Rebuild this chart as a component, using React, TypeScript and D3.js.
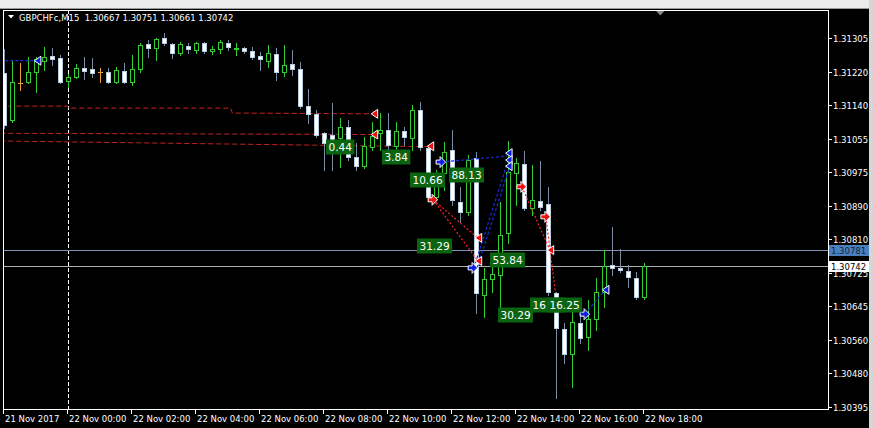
import React from "react";
import * as d3 from "d3";

const W = 873;
const H = 428;
const PLOT = { left: 3, right: 828, top: 10, bottom: 409 };

const symbolTitle = "GBPCHFc,M15  1.30667 1.30751 1.30661 1.30742";

const opens = [
  1.31219, 1.31103, 1.31194, 1.31197, 1.31221, 1.31248, 1.31261, 1.31256, 1.31199, 1.31209,
  1.31231, 1.31229, 1.31221, 1.31221, 1.31197, 1.31224, 1.31197, 1.31229, 1.3129, 1.3128,
  1.31305, 1.3129, 1.31268, 1.31285, 1.31275, 1.31293, 1.31273, 1.31278, 1.31293, 1.31278,
  1.3128, 1.31273, 1.31261, 1.31248, 1.31266, 1.31221, 1.31241, 1.31229, 1.31137, 1.31118,
  1.31071, 1.31066, 1.31058, 1.31086, 1.31012, 1.30989, 1.31036, 1.31071, 1.31078, 1.31039,
  1.31076, 1.31058, 1.31127, 1.31034, 1.30913, 1.30972, 1.31029, 1.30901, 1.30876, 1.31009,
  1.30671, 1.30711, 1.30721, 1.30824, 1.30972, 1.30994, 1.30886, 1.30903, 1.30896, 1.30676,
  1.30587, 1.30526, 1.30602, 1.30568, 1.30612, 1.30679, 1.30745, 1.30738, 1.3073, 1.30713,
  1.30667,
];
const highs = [
  1.31278, 1.31251, 1.31243, 1.31258, 1.31258, 1.31283, 1.3128, 1.31263, 1.31216, 1.31241,
  1.31258, 1.31256, 1.31231, 1.31231, 1.31233, 1.31243, 1.31263, 1.31293, 1.313, 1.31305,
  1.31317, 1.31293, 1.31295, 1.31293, 1.31295, 1.31295, 1.31285, 1.313, 1.313, 1.31293,
  1.31283, 1.31283, 1.31271, 1.31288, 1.3128, 1.31288, 1.31275, 1.31246, 1.31179, 1.31127,
  1.31073, 1.31145, 1.31108, 1.31103, 1.31046, 1.31061, 1.31098, 1.3112, 1.3112, 1.31098,
  1.31086, 1.3114, 1.31147, 1.31041, 1.3098, 1.31049, 1.31078, 1.30938, 1.31016, 1.31024,
  1.30738, 1.30762, 1.30901, 1.31051, 1.31009, 1.31026, 1.30992, 1.31002, 1.30938, 1.30679,
  1.30602, 1.30629, 1.30659, 1.30659, 1.30713, 1.30782, 1.30839, 1.30785, 1.30745, 1.30728,
  1.30751,
];
const lows = [
  1.31083, 1.31098, 1.31177, 1.31194, 1.31172, 1.31226, 1.31238, 1.31194, 1.31184, 1.31206,
  1.31204, 1.31209, 1.31197, 1.31194, 1.31194, 1.31194, 1.31189, 1.31221, 1.31258, 1.31251,
  1.31288, 1.31256, 1.31263, 1.31268, 1.31268, 1.31268, 1.31266, 1.31268, 1.31275, 1.31263,
  1.31268, 1.31253, 1.31226, 1.31233, 1.31201, 1.31211, 1.31214, 1.31132, 1.31095, 1.31061,
  1.3098, 1.3098, 1.30987, 1.31004, 1.3098, 1.30984, 1.31029, 1.31029, 1.31029, 1.31029,
  1.31041, 1.31029, 1.31029, 1.30906, 1.30906, 1.3093, 1.30893, 1.30851, 1.30869, 1.30627,
  1.30617, 1.30679, 1.30642, 1.30799, 1.30893, 1.30881, 1.30869, 1.30881, 1.30671, 1.30417,
  1.30504, 1.30444, 1.30553, 1.30536, 1.30585, 1.30642, 1.30721, 1.30728, 1.30691, 1.30661,
  1.30661,
];
const closes = [
  1.3109, 1.31197, 1.31194, 1.31221, 1.31253, 1.31258, 1.31253, 1.31197, 1.31209, 1.31231,
  1.31224, 1.31219, 1.31221, 1.31197, 1.31226, 1.31197, 1.31229, 1.31288, 1.3128, 1.31303,
  1.31293, 1.31268, 1.3129, 1.31278, 1.31293, 1.31273, 1.31278, 1.31295, 1.31283, 1.3128,
  1.31273, 1.31258, 1.31253, 1.31268, 1.31221, 1.31238, 1.31229, 1.31137, 1.31118, 1.31066,
  1.31046, 1.31053, 1.31086, 1.31012, 1.30989, 1.31039, 1.31063, 1.31078, 1.31041, 1.31076,
  1.31061, 1.31127, 1.31036, 1.30913, 1.30943, 1.31024, 1.30906, 1.30876, 1.31004, 1.30676,
  1.30711, 1.30723, 1.30819, 1.30975, 1.30997, 1.30886, 1.30906, 1.30888, 1.30679, 1.3059,
  1.30526, 1.30605, 1.30565, 1.30612, 1.30679, 1.30743, 1.30738, 1.30733, 1.30716, 1.30666,
  1.30742,
];

const timeTickIndex = [0, 8, 16, 24, 32, 40, 48, 56, 64, 72, 80];
const timeTickLabels = [
  "21 Nov 2017", "22 Nov 00:00", "22 Nov 02:00", "22 Nov 04:00", "22 Nov 06:00",
  "22 Nov 08:00", "22 Nov 10:00", "22 Nov 12:00", "22 Nov 14:00", "22 Nov 16:00", "22 Nov 18:00",
];
const priceTicks = [
  1.31305, 1.3122, 1.3114, 1.31055, 1.30975, 1.3089, 1.3081, 1.30725, 1.30645, 1.3056, 1.3048, 1.30395,
];
const separatorIndex = [8];
const shiftMarkerIndex = 82;

const hLineLevels = [1.30781, 1.30742];
const hLineLabels = ["1.30781", "1.30742"];

const redTrendLines = [
  [[-0.5, 1.31137], [7.9, 1.31137], [8.1, 1.31132], [28.3, 1.31132], [28.5, 1.3112], [46.0, 1.31118]],
  [[-0.5, 1.3107], [46.0, 1.31067]],
  [[-0.5, 1.31051], [53.0, 1.31037]],
];
const redDottedLines = [
  [[53.6, 1.30906], [59.2, 1.30812]],
  [[53.6, 1.30906], [59.2, 1.30755]],
  [[64.7, 1.30938], [68.2, 1.30782]],
  [[67.7, 1.30864], [68.9, 1.30676]],
];
const blueDottedLines = [
  [[-0.5, 1.31249], [4.0, 1.31249]],
  [[54.6, 1.30999], [62.9, 1.31014]],
  [[58.7, 1.30738], [63.0, 1.31004]],
  [[59.1, 1.30738], [63.1, 1.30984]],
  [[72.6, 1.30624], [75.1, 1.30684]],
];
const redLeftArrows = [
  [46.3, 1.31118], [46.3, 1.31067], [53.3, 1.31038], [59.3, 1.30812], [59.3, 1.30755], [68.3, 1.30782],
];
const redSignalArrows = [[53.6, 1.30906], [64.7, 1.30938], [67.7, 1.30864]];
const blueLeftArrows = [
  [4.2, 1.31249], [63.1, 1.31021], [63.1, 1.31004], [63.1, 1.30989], [75.2, 1.30684],
];
const blueRightArrows = [[54.6, 1.30999], [58.6, 1.30738], [72.6, 1.30624]];

// the 8th box is mostly covered by the 9th; only "16" of it is visible
const boxTexts = ["0.44", "3.84", "10.66", "88.13", "31.29", "53.84", "30.29", "16", "16.25"];
const boxWidthTexts = ["0.44", "3.84", "10.66", "88.13", "31.29", "53.84", "30.29", "16.25", "16.25"];
const boxIndex = [40.2, 47.2, 50.7, 55.6, 51.6, 60.7, 61.7, 65.7, 67.8];
const boxPrice = [1.31037, 1.31012, 1.30956, 1.30967, 1.30793, 1.30758, 1.30622, 1.30647, 1.30647];

const AX_FONT = "DejaVu Sans, Verdana, sans-serif";

export default function App() {
  const x = d3.scaleLinear().domain([0, 80]).range([4.3, 644.3]);
  const y = d3.scaleLinear().domain([1.30395, 1.31305]).range([407, 38]);
  const line = d3
    .line<number[]>()
    .x((d) => x(d[0]))
    .y((d) => y(d[1]));

  const BULL = "#32cd32";
  const BEAR_WICK = "#7a8ea6";
  const BEAR_STROKE = "#b8cce0";
  const DOJI = "#f0a030";

  const candles = opens.map((o, i) => {
    const c = closes[i];
    const h = highs[i];
    const l = lows[i];
    const cx = Math.round(x(i));
    const yt = Math.round(y(Math.max(o, c)));
    const yb = Math.round(y(Math.min(o, c)));
    const yh = Math.round(y(h));
    const yl = Math.round(y(l));
    const bull = c > o;
    const doji = c === o;
    const wickColor = doji ? DOJI : bull ? BULL : BEAR_WICK;
    return (
      <g key={i}>
        <line x1={cx + 0.5} x2={cx + 0.5} y1={yh} y2={yl + 1} stroke={wickColor} strokeWidth={1} />
        {yb - yt < 1 ? (
          <line x1={cx - 2} x2={cx + 3} y1={yt + 0.5} y2={yt + 0.5} stroke={wickColor} strokeWidth={1} />
        ) : (
          <rect
            x={cx - 2 + 0.5}
            y={yt + 0.5}
            width={4}
            height={yb - yt}
            fill={bull ? "#000" : "#fff"}
            stroke={bull ? BULL : BEAR_STROKE}
            strokeWidth={1}
          />
        )}
      </g>
    );
  });

  const leftTri = (px: number, py: number, fill: string, k: string) => (
    <polygon
      key={k}
      points={`${px - 3.5},${py} ${px + 3},${py - 4.5} ${px + 3},${py + 4.5}`}
      fill={fill}
      stroke="#fff"
      strokeWidth={1}
    />
  );
  const rightArrow = (px: number, py: number, fill: string, k: string) => (
    <path
      key={k}
      d={`M${px - 5},${py - 2} h4 v-3.5 l5.5,5.5 l-5.5,5.5 v-3.5 h-4 z`}
      fill={fill}
      stroke="#fff"
      strokeWidth={1}
    />
  );

  const boxW = (t: string) => {
    let w = 0;
    for (const ch of t) w += ch === "." ? 3.34 : 6.68;
    return w + 5;
  };

  return (
    <div style={{ position: "absolute", left: 0, top: 0, width: W, height: H }}>
      <svg width={W} height={H} style={{ display: "block", background: "#000" }}>
        <defs>
          <clipPath id="plotclip">
            <rect x={PLOT.left} y={PLOT.top} width={PLOT.right - PLOT.left} height={PLOT.bottom - PLOT.top} />
          </clipPath>
        </defs>
        <rect x={0} y={0} width={W} height={H} fill="#000" />
        {/* toolbar strip */}
        <rect x={0} y={0} width={W} height={8} fill="#ececec" />
        <line x1={0} x2={W} y1={8.5} y2={8.5} stroke="#9a9a9a" />
        <rect x={869} y={0} width={4} height={H} fill="#d6d6d6" />

        <g clipPath="url(#plotclip)">
          {separatorIndex.map((si) => (
            <line
              key={si}
              x1={Math.round(x(si)) + 0.5}
              x2={Math.round(x(si)) + 0.5}
              y1={PLOT.top}
              y2={PLOT.bottom}
              stroke="#fff"
              strokeDasharray="4,2"
            />
          ))}
          {hLineLevels.map((lv, i) => (
            <line
              key={i}
              x1={PLOT.left}
              x2={PLOT.right}
              y1={Math.round(y(lv)) + 0.5}
              y2={Math.round(y(lv)) + 0.5}
              stroke={i === 0 ? "#7f93b0" : "#b0b0b0"}
              strokeWidth={1}
            />
          ))}
          {redTrendLines.map((pts, i) => (
            <path key={i} d={line(pts) || ""} fill="none" stroke="#cc2222" strokeWidth={1} strokeDasharray="5,3" />
          ))}
          {candles}
          {redDottedLines.map((pts, i) => (
            <path key={i} d={line(pts) || ""} fill="none" stroke="#ff2020" strokeWidth={1.2} strokeDasharray="2,2" />
          ))}
          {blueDottedLines.map((pts, i) => (
            <path key={i} d={line(pts) || ""} fill="none" stroke="#1a2ad8" strokeWidth={1.2} strokeDasharray="3,2" />
          ))}
          {redLeftArrows.map((p, i) => leftTri(x(p[0]), y(p[1]), "#ee1111", "rl" + i))}
          {redSignalArrows.map((p, i) => rightArrow(x(p[0]), y(p[1]), "#ee1111", "rs" + i))}
          {blueLeftArrows.map((p, i) => leftTri(x(p[0]), y(p[1]), "#1020e0", "bl" + i))}
          {blueRightArrows.map((p, i) => rightArrow(x(p[0]), y(p[1]), "#1020e0", "br" + i))}
          {boxTexts.map((t, i) => {
            const bx = Math.round(x(boxIndex[i]));
            const by = Math.round(y(boxPrice[i]));
            const w = boxW(boxWidthTexts[i]);
            return (
              <g key={"b" + i}>
                <rect x={bx} y={by - 7.5} width={w} height={15} fill="#0a6410" />
                <text x={bx + 2.5} y={by + 4} fill="#fff" fontFamily={AX_FONT} fontSize={10.5}>
                  {t}
                </text>
              </g>
            );
          })}
        </g>

        <rect
          x={PLOT.left + 0.5}
          y={PLOT.top + 0.5}
          width={PLOT.right - PLOT.left}
          height={PLOT.bottom - PLOT.top}
          fill="none"
          stroke="#fff"
          strokeWidth={1}
        />

        <polygon points="8,15 14,15 11,18.5" fill="#fff" />
        <text x={19} y={21} fill="#fff" fontFamily={AX_FONT} fontSize={8.5} style={{ whiteSpace: "pre" }}>
          {symbolTitle}
        </text>
        <polygon
          points={`${x(shiftMarkerIndex) - 4},11 ${x(shiftMarkerIndex) + 4},11 ${x(shiftMarkerIndex)},15.5`}
          fill="#8a8a8a"
        />

        {priceTicks.map((p, i) => {
          const ty = Math.round(y(p));
          return (
            <g key={"pt" + i}>
              <line x1={PLOT.right + 1} x2={PLOT.right + 4} y1={ty + 0.5} y2={ty + 0.5} stroke="#fff" />
              <text x={833} y={ty + 3.5} fill="#fff" fontFamily={AX_FONT} fontSize={8.5}>
                {p.toFixed(5)}
              </text>
            </g>
          );
        })}
        {hLineLevels.map((lv, i) => {
          const ty = Math.round(y(lv));
          return (
            <g key={"hl" + i}>
              <rect x={829} y={ty - 5} width={40} height={11} fill={i === 0 ? "#4a80bd" : "#ffffff"} />
              <text x={831} y={ty + 3.5} fill={i === 0 ? "#16263c" : "#000"} fontFamily={AX_FONT} fontSize={8.5}>
                {hLineLabels[i]}
              </text>
            </g>
          );
        })}

        {timeTickIndex.map((ti, i) => {
          const tx = Math.round(x(ti)) - 1;
          return (
            <g key={"tt" + i}>
              <line x1={tx + 0.5} x2={tx + 0.5} y1={PLOT.bottom + 1} y2={PLOT.bottom + 5} stroke="#fff" />
              <text x={tx + 2} y={422} fill="#fff" fontFamily={AX_FONT} fontSize={8.5}>
                {timeTickLabels[i]}
              </text>
            </g>
          );
        })}
      </svg>
    </div>
  );
}
